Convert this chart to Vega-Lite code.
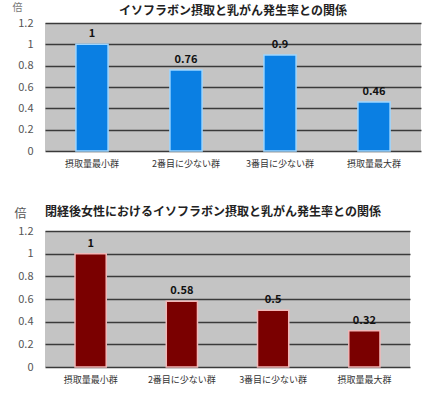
{
  "$schema": "https://vega.github.io/schema/vega-lite/v6.json",
  "background": "white",
  "padding": {"left": 12, "top": 2, "right": 4, "bottom": 0},
  "config": {
    "font": "Noto Sans CJK JP",
    "view": {"fill": "#c4c4c4", "stroke": null},
    "axis": {"labelFont": "Noto Sans CJK JP", "titleFont": "Noto Sans CJK JP"},
    "title": {"font": "Noto Sans CJK JP"}
  },
  "spacing": 38,
  "datasets": {
    "all": [
      {"group": "摂取量最小群", "value": 1},
      {"group": "2番目に少ない群", "value": 0.76},
      {"group": "3番目に少ない群", "value": 0.9},
      {"group": "摂取量最大群", "value": 0.46}
    ],
    "post": [
      {"group": "摂取量最小群", "value": 1},
      {"group": "2番目に少ない群", "value": 0.58},
      {"group": "3番目に少ない群", "value": 0.5},
      {"group": "摂取量最大群", "value": 0.32}
    ]
  },
  "vconcat": [
    {
      "title": {"text": "イソフラボン摂取と乳がん発生率との関係", "fontSize": 12, "fontWeight": "bold", "color": "#222", "anchor": "middle", "frame": "group", "offset": -16},
      "width": 376,
      "height": 128,
      "data": {"name": "all"},
      "encoding": {
        "x": {"field": "group", "type": "nominal", "sort": null,
          "axis": {"title": null, "labelAngle": 0, "labelFontSize": 9, "labelColor": "#333", "domain": false, "ticks": false, "labelPadding": 8}},
        "y": {"field": "value", "type": "quantitative", "scale": {"domain": [0, 1.2]},
          "axis": {"values": [0, 0.2, 0.4, 0.6, 0.8, 1, 1.2], "format": "~g", "labelFontSize": 11, "labelColor": "#555", "labelPadding": 12, "domain": false, "ticks": false, "gridColor": "#3a3a3a", "gridWidth": 1.5,
            "title": "倍", "titleAngle": 0, "titleFontSize": 10, "titleFontWeight": "normal", "titleColor": "#777", "titleAlign": "left", "titleBaseline": "middle", "titleX": -33, "titleY": -16}}
      },
      "layer": [
        {"mark": {"type": "bar", "width": {"band": 0.38}, "color": "#0a7fe3", "stroke": "#9fd6ff", "strokeWidth": 1.5}},
        {"mark": {"type": "text", "dy": -10, "fontSize": 11, "fontWeight": "bold", "color": "#111"}, "encoding": {"text": {"field": "value", "type": "quantitative"}}}
      ]
    },
    {
      "title": {"text": "閉経後女性におけるイソフラボン摂取と乳がん発生率との関係", "fontSize": 12, "fontWeight": "bold", "color": "#222", "anchor": "start", "frame": "group", "offset": -12},
      "width": 365,
      "height": 136,
      "data": {"name": "post"},
      "encoding": {
        "x": {"field": "group", "type": "nominal", "sort": null,
          "axis": {"title": null, "labelAngle": 0, "labelFontSize": 9, "labelColor": "#333", "domain": false, "ticks": false, "labelPadding": 8}},
        "y": {"field": "value", "type": "quantitative", "scale": {"domain": [0, 1.2]},
          "axis": {"values": [0, 0.2, 0.4, 0.6, 0.8, 1, 1.2], "format": "~g", "labelFontSize": 11, "labelColor": "#555", "labelPadding": 12, "domain": false, "ticks": false, "gridColor": "#3a3a3a", "gridWidth": 1.5,
            "title": "倍", "titleAngle": 0, "titleFontSize": 12, "titleFontWeight": "normal", "titleColor": "#555", "titleAlign": "left", "titleBaseline": "middle", "titleX": -31, "titleY": -18}}
      },
      "layer": [
        {"mark": {"type": "bar", "width": {"band": 0.38}, "color": "#7a0000", "stroke": "#f2b8b8", "strokeWidth": 1.5}},
        {"mark": {"type": "text", "dy": -10, "fontSize": 11, "fontWeight": "bold", "color": "#111"}, "encoding": {"text": {"field": "value", "type": "quantitative"}}}
      ]
    }
  ]
}
